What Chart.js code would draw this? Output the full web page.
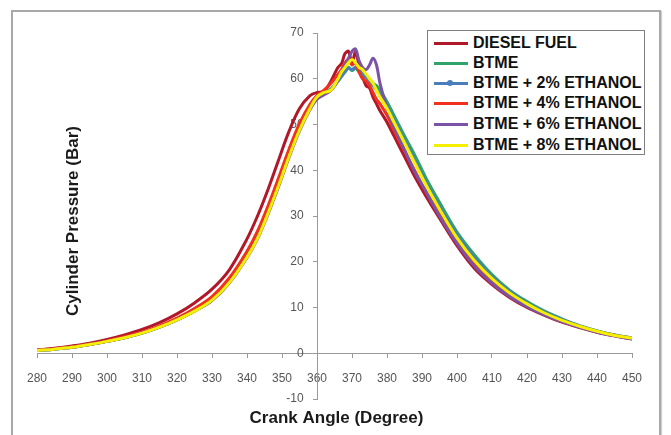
<!DOCTYPE html>
<html>
<head>
<meta charset="utf-8">
<script src="https://cdn.jsdelivr.net/npm/chart.js@4/dist/chart.umd.min.js"></script>
<style>
  html, body { margin: 0; padding: 0; background: #fff; overflow: hidden; }
  #wrap { position: relative; width: 671px; height: 435px; }
  #frame { position: absolute; left: 11px; top: 10px; width: 646px; height: 440px;
           border: 2px solid #a8a8a8; box-shadow: 1px 1px 1px #d0d0d0; pointer-events: none; }
  #legend { position: absolute; left: 427px; top: 30px; width: 216px; height: 123px;
            border: 1px solid #808080; background: #fff;
            font: bold 16px "Liberation Sans", Arial, sans-serif; color: #111; }
  .item { position: absolute; left: 0; height: 20px; line-height: 20px; white-space: nowrap; }
  .item .swatch { position: absolute; left: 6px; top: 9px; width: 34px; height: 3px; }
  .item .dot { position: absolute; left: 19px; top: 7px; width: 6px; height: 6px; border-radius: 50%; }
  .item span { position: absolute; left: 45px; top: 0; }
</style>
</head>
<body>
<div id="wrap">
  <canvas id="pressureChart" width="671" height="435"></canvas>
  <div id="frame"></div>
  <div id="legend"></div>
</div>
<script>
// crank angle (degree)
const angles = [280, 285, 290, 295, 300, 305, 310, 315, 320, 325, 330, 335, 340, 343, 346, 349, 352, 355, 358,
  360, 362, 364, 366, 367, 368, 369, 370, 371, 372, 373, 374, 375, 376, 377, 378,
  380, 382, 385, 388, 391, 395, 400, 405, 410, 415, 420, 425, 430, 435, 440, 445, 450];

// cylinder pressure (bar)
const dieselFuel = [0.7, 1.1, 1.6, 2.2, 3.0, 4.0, 5.2, 6.7, 8.6, 11.0, 14.0, 18.3, 25.0, 30.0, 35.8, 42.2, 48.5, 53.5, 56.3,
  57.0, 57.2, 59.5, 62.5, 63.3, 65.5, 66.0, 63.5, 65.8, 63.0, 60.5, 58.5, 58.0, 56.0, 54.5, 53.0,
  50.5, 47.5, 43.0, 38.5, 34.5, 29.5, 23.5, 18.5, 15.0, 12.2, 10.0, 8.3, 6.8, 5.6, 4.6, 3.8, 3.1];
const btme = [0.6, 0.9, 1.3, 1.9, 2.6, 3.4, 4.4, 5.7, 7.3, 9.2, 11.6, 15.6, 21.2, 25.3, 30.8, 36.8, 43.2, 49.0, 53.6,
  55.8, 56.8, 57.8, 59.5, 60.5, 61.5, 62.5, 61.8, 62.3, 61.5, 61.0, 60.5, 60.0, 59.0, 58.5, 57.5,
  55.0, 52.0, 47.5, 43.2, 38.5, 33.0, 26.5, 21.5, 17.2, 13.8, 11.3, 9.2, 7.5, 6.0, 4.9, 4.0, 3.3];
const btmeEth2 = [0.6, 0.9, 1.3, 1.9, 2.6, 3.4, 4.4, 5.7, 7.3, 9.3, 11.8, 15.8, 21.4, 25.6, 31.0, 37.0, 43.4, 49.2, 53.8,
  55.8, 56.8, 57.5, 59.5, 60.5, 61.5, 62.3, 62.0, 62.5, 61.8, 61.0, 60.3, 59.5, 58.5, 57.5, 56.5,
  54.0, 51.0, 46.5, 42.0, 37.5, 32.0, 25.8, 20.8, 16.7, 13.5, 11.0, 9.0, 7.4, 6.0, 4.9, 4.0, 3.3];
const btmeEth4 = [0.7, 1.0, 1.4, 2.0, 2.7, 3.6, 4.6, 6.0, 7.7, 9.8, 12.4, 16.5, 22.3, 26.7, 32.2, 38.3, 44.6, 50.2, 54.4,
  56.3, 57.5, 59.0, 61.0, 62.0, 63.5, 64.2, 63.0, 63.5, 61.5, 60.0, 59.5, 58.5, 57.0, 55.5, 54.5,
  52.0, 48.8, 44.3, 39.8, 35.5, 30.5, 24.5, 19.5, 15.7, 12.7, 10.4, 8.5, 7.0, 5.8, 4.7, 3.9, 3.2];
const btmeEth6 = [0.6, 0.9, 1.3, 1.9, 2.6, 3.4, 4.4, 5.7, 7.3, 9.2, 11.5, 15.4, 20.9, 25.0, 30.4, 36.4, 42.8, 48.6, 53.3,
  55.5, 56.5, 57.5, 59.8, 61.5, 63.0, 64.5, 66.0, 66.5, 64.0, 62.5, 62.0, 63.0, 64.5, 63.0, 59.0,
  53.5, 49.5, 44.5, 39.5, 35.5, 30.0, 24.0, 19.0, 15.3, 12.4, 10.2, 8.4, 6.9, 5.7, 4.6, 3.8, 3.1];
const btmeEth8 = [0.6, 0.9, 1.3, 1.9, 2.6, 3.4, 4.4, 5.7, 7.3, 9.2, 11.6, 15.5, 21.0, 25.1, 30.6, 36.6, 43.0, 48.8, 53.5,
  56.0, 57.0, 57.5, 60.0, 61.5, 62.5, 63.5, 64.2, 63.5, 62.5, 62.0, 61.0, 60.0, 59.0, 57.5, 56.0,
  53.5, 50.5, 46.0, 41.5, 37.0, 31.5, 25.2, 20.2, 16.3, 13.2, 10.8, 8.8, 7.2, 5.9, 4.8, 3.9, 3.3];

const seriesNames = ['DIESEL FUEL', 'BTME', 'BTME + 2% ETHANOL', 'BTME + 4% ETHANOL', 'BTME + 6% ETHANOL', 'BTME + 8% ETHANOL'];
const seriesValues = [dieselFuel, btme, btmeEth2, btmeEth4, btmeEth6, btmeEth8];
const seriesColors = ['#b0182a', '#2fa36a', '#4a7ebb', '#f2301e', '#7a52a6', '#f5f000'];

const xTitle = 'Crank Angle (Degree)';
const yTitle = 'Cylinder Pressure (Bar)';

const axisTitles = {
  id: 'axisTitles',
  afterDraw(chart) {
    const ctx = chart.ctx;
    const area = chart.chartArea;
    ctx.save();
    ctx.fillStyle = '#1a1a1a';
    ctx.font = 'bold 17px "Liberation Sans", Arial, sans-serif';
    ctx.textAlign = 'center';
    ctx.textBaseline = 'middle';
    ctx.fillText(xTitle, (area.left + area.right) / 2 + 2, 418);
    ctx.translate(73, (area.top + area.bottom) / 2 + 5);
    ctx.rotate(-Math.PI / 2);
    ctx.fillText(yTitle, 0, 0);
    ctx.restore();
  }
};

const datasets = seriesNames.map((name, i) => ({
  label: name,
  data: angles.map((a, j) => ({ x: a, y: seriesValues[i][j] })),
  borderColor: seriesColors[i],
  backgroundColor: seriesColors[i],
  borderWidth: 3,
  pointRadius: 0,
  tension: 0.35,
  fill: false,
  order: seriesNames.length - i
}));

const ctx = document.getElementById('pressureChart').getContext('2d');
new Chart(ctx, {
  type: 'line',
  data: { datasets: datasets },
  options: {
    responsive: false,
    animation: false,
    layout: { padding: { left: 37, right: 39, top: 33, bottom: 36 } },
    plugins: {
      legend: { display: false },
      tooltip: { enabled: false }
    },
    scales: {
      x: {
        type: 'linear',
        min: 280,
        max: 450,
        position: { y: 0 },
        border: { display: true, color: '#9a9a9a', width: 1 },
        grid: { display: true, drawOnChartArea: false, drawTicks: true, tickLength: 4, color: '#9a9a9a' },
        ticks: {
          stepSize: 10,
          autoSkip: false,
          maxRotation: 0,
          padding: 14,
          color: '#555',
          font: { family: '"Liberation Sans", Arial, sans-serif', size: 12 }
        }
      },
      y: {
        type: 'linear',
        min: -10,
        max: 70,
        position: { x: 360 },
        border: { display: true, color: '#9a9a9a', width: 1 },
        grid: { display: true, drawOnChartArea: false, drawTicks: true, tickLength: 4, color: '#9a9a9a' },
        ticks: {
          stepSize: 10,
          color: '#555',
          font: { family: '"Liberation Sans", Arial, sans-serif', size: 12 },
          // labels sit to the left of the crossing axis
          callback: (v) => v + '    '
        }
      }
    }
  },
  plugins: [axisTitles]
});

// legend box like the original one
const legend = document.getElementById('legend');
const rowTops = [2, 22, 42, 62, 83, 104];
seriesNames.forEach((name, i) => {
  const row = document.createElement('div');
  row.className = 'item';
  row.style.top = rowTops[i] + 'px';
  row.innerHTML = '<div class="swatch" style="background:' + seriesColors[i] + '"></div>' +
    (i === 2 ? '<div class="dot" style="background:' + seriesColors[i] + '"></div>' : '') +
    '<span>' + name + '</span>';
  legend.appendChild(row);
});
</script>
</body>
</html>
